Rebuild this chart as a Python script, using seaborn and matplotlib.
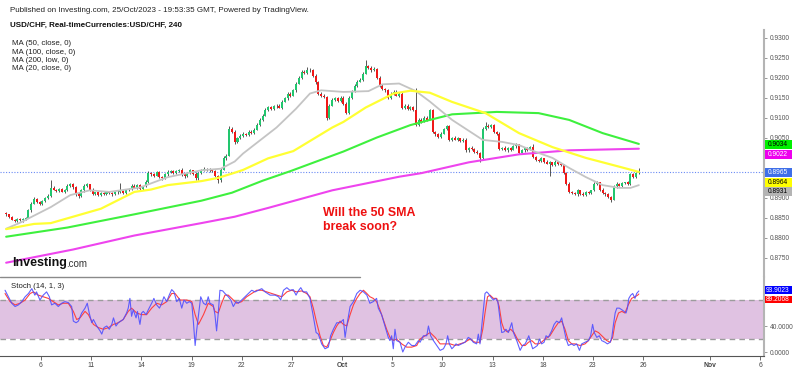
import numpy as np
import matplotlib
matplotlib.use("Agg")
import matplotlib.pyplot as plt
from matplotlib.patches import Rectangle
from matplotlib.lines import Line2D
import seaborn as sns

# ---------------- data (4h bars, USD/CHF) ----------------
first_open = 0.8862
closes = [
    0.8858,
    0.8851, 0.8845, 0.8842, 0.8847, 0.8843, 0.8846,   # Sep 4
    0.8850, 0.8868, 0.8885, 0.8897, 0.8890, 0.8884,   # Sep 5
    0.8892, 0.8899, 0.8905, 0.8925, 0.8920, 0.8916,   # Sep 6
    0.8922, 0.8915, 0.8918, 0.8930, 0.8934, 0.8926,   # Sep 7
    0.8910, 0.8903, 0.8918, 0.8929, 0.8933, 0.8920,   # Sep 8
    0.8909, 0.8913, 0.8906, 0.8912, 0.8910, 0.8914,   # Sep 11
    0.8911, 0.8908, 0.8915, 0.8913, 0.8917, 0.8912,   # Sep 12
    0.8918, 0.8921, 0.8930, 0.8925, 0.8932, 0.8922,   # Sep 13
    0.8928, 0.8940, 0.8962, 0.8958, 0.8955, 0.8963,   # Sep 14
    0.8952, 0.8948, 0.8958, 0.8964, 0.8967, 0.8962,   # Sep 15
    0.8966, 0.8970, 0.8958, 0.8953, 0.8962, 0.8968,   # Sep 18
    0.8960, 0.8948, 0.8962, 0.8970, 0.8972, 0.8968,   # Sep 19
    0.8970, 0.8966, 0.8955, 0.8943, 0.8970, 0.8998,   # Sep 20
    0.9005, 0.9072, 0.9065, 0.9040, 0.9048, 0.9055,   # Sep 21
    0.9060, 0.9057, 0.9065, 0.9062, 0.9070, 0.9082,   # Sep 22
    0.9095, 0.9105, 0.9120, 0.9126, 0.9122, 0.9128,   # Sep 25
    0.9130, 0.9125, 0.9140, 0.9148, 0.9160, 0.9155,   # Sep 26
    0.9168, 0.9185, 0.9200, 0.9215, 0.9212, 0.9220,   # Sep 27
    0.9218, 0.9205, 0.9188, 0.9160, 0.9155, 0.9152,   # Sep 28
    0.9100, 0.9130, 0.9145, 0.9148, 0.9142, 0.9150,   # Sep 29
    0.9135, 0.9112, 0.9150, 0.9165, 0.9180, 0.9190,   # Oct 2
    0.9195, 0.9210, 0.9228, 0.9225, 0.9218, 0.9222,   # Oct 3
    0.9200, 0.9180, 0.9172, 0.9168, 0.9150, 0.9160,   # Oct 4
    0.9165, 0.9155, 0.9160, 0.9125, 0.9130, 0.9122,   # Oct 5
    0.9126, 0.9120, 0.9082, 0.9095, 0.9090, 0.9100,   # Oct 6
    0.9095, 0.9118, 0.9065, 0.9058, 0.9052, 0.9060,   # Oct 9
    0.9072, 0.9078, 0.9045, 0.9050, 0.9045, 0.9048,   # Oct 10
    0.9042, 0.9045, 0.9018, 0.9025, 0.9022, 0.9015,   # Oct 11
    0.9012, 0.8998, 0.9072, 0.9080, 0.9076, 0.9082,   # Oct 12
    0.9065, 0.9060, 0.9022, 0.9025, 0.9018, 0.9024,   # Oct 13
    0.9020, 0.9028, 0.9033, 0.9012, 0.9018, 0.9024,   # Oct 16
    0.9020, 0.9026, 0.9002, 0.8995, 0.8992, 0.8998,   # Oct 17
    0.8990, 0.8985, 0.8988, 0.8982, 0.8990, 0.8985,   # Oct 18
    0.8982, 0.8962, 0.8935, 0.8915, 0.8912, 0.8908,   # Oct 19
    0.8918, 0.8910, 0.8906, 0.8914, 0.8912, 0.8918,   # Oct 20
    0.8935, 0.8938, 0.8920, 0.8912, 0.8908, 0.8902,   # Oct 23
    0.8895, 0.8928, 0.8935, 0.8930, 0.8936, 0.8938,   # Oct 24
    0.8934, 0.8958, 0.8952, 0.8962, 0.8965,           # Oct 25
]
# wick lengths beyond the candle body, in pips (0.0001)
up_wick = [
    2,
    2, 3, 2, 3, 2, 3,  2, 3, 3, 4, 3, 2,  3, 2, 3, 19, 3, 2,  3, 2, 4, 3, 3, 2,
    2, 3, 3, 5, 3, 2,  3, 2, 3, 2, 3, 2,  2, 3, 2, 3, 20, 2,  3, 2, 4, 3, 2, 3,
    2, 4, 5, 3, 3, 4,  3, 2, 3, 4, 3, 2,  3, 2, 3, 2, 3, 3,  2, 3, 3, 2, 4, 3,
    3, 2, 3, 2, 4, 5,  4, 6, 5, 3, 3, 4,  3, 2, 4, 3, 3, 4,  5, 4, 3, 4, 3, 3,
    3, 4, 3, 4, 5, 3,  4, 5, 4, 3, 4, 6,  3, 4, 3, 3, 4, 3,  2, 4, 3, 3, 4, 3,
    3, 3, 4, 3, 4, 3,  4, 5, 17, 4, 3, 4,  3, 3, 4, 3, 3, 4,  3, 4, 3, 3, 4, 3,
    3, 2, 55, 3, 3, 4,  3, 4, 3, 2, 3, 4,  3, 4, 3, 2, 3, 3,  2, 3, 3, 2, 3, 2,
    3, 2, 4, 10, 3, 3,  3, 2, 3, 2, 3, 3,  2, 3, 3, 2, 3, 2,  2, 3, 9, 3, 2, 3,
    2, 3, 3, 2, 3, 2,  2, 3, 2, 3, 2, 3,  3, 2, 3, 2, 3, 2,  3, 4, 2, 3, 2, 3,
    3, 4, 3, 2, 3, 2,  3, 4, 3, 3, 9,
]
dn_wick = [
    3,
    3, 2, 4, 3, 2, 3,  3, 2, 3, 2, 3, 3,  2, 3, 2, 3, 2, 3,  3, 2, 3, 2, 3, 4,
    6, 3, 2, 3, 2, 3,  3, 2, 3, 2, 3, 3,  2, 3, 2, 3, 2, 3,  3, 2, 3, 2, 3, 2,
    3, 2, 3, 4, 3, 2,  3, 4, 2, 3, 2, 3,  2, 3, 3, 4, 2, 3,  3, 5, 3, 2, 3, 2,
    3, 2, 3, 7, 3, 2,  3, 2, 3, 5, 3, 2,  3, 2, 3, 2, 3, 2,  2, 3, 2, 3, 3, 2,
    3, 2, 3, 2, 3, 3,  2, 3, 2, 3, 3, 2,  3, 3, 4, 3, 3, 3,  6, 3, 2, 3, 3, 2,
    3, 4, 2, 3, 2, 3,  2, 3, 2, 3, 3, 2,  3, 4, 3, 3, 4, 3,  3, 2, 3, 4, 3, 3,
    3, 3, 4, 3, 3, 2,  3, 2, 4, 3, 3, 2,  2, 3, 4, 3, 2, 3,  3, 2, 4, 3, 3, 3,
    3, 10, 2, 3, 3, 2,  3, 3, 4, 3, 2, 3,  3, 2, 3, 3, 2, 3,  3, 2, 3, 3, 2, 3,
    3, 2, 30, 3, 2, 3,  2, 3, 4, 3, 3, 2,  3, 3, 2, 3, 2, 3,  2, 3, 3, 2, 3, 3,
    6, 2, 3, 2, 3, 2,  3, 2, 3, 2, 3,
]

# moving averages (bar index, value)
ma50_bar = [0, 10, 16, 22, 34, 46, 52, 58, 70, 76, 82, 85, 94, 103, 117, 121, 129, 133, 139, 145, 152, 160, 172, 184, 196, 208, 220, 227]
ma50_val = [0.8821, 0.8834, 0.8836, 0.8848, 0.8872, 0.8914, 0.8920, 0.8931, 0.8941, 0.8949, 0.8962, 0.8969, 0.8998, 0.9016, 0.9075, 0.9089, 0.9125, 0.9139, 0.9160, 0.9167, 0.9162, 0.9139, 0.9111, 0.9061, 0.9026, 0.8999, 0.8977, 0.8964]
ma100_bar = [0, 22, 46, 70, 81, 92, 102, 121, 133, 145, 152, 160, 176, 191, 202, 214, 227]
ma100_val = [0.8802, 0.8825, 0.8858, 0.8892, 0.8912, 0.8942, 0.8966, 0.9015, 0.9050, 0.9081, 0.9094, 0.9108, 0.9114, 0.9111, 0.9094, 0.9061, 0.9034]
ma200_bar = [0, 24, 46, 70, 82, 94, 117, 141, 149, 166, 184, 202, 227]
ma200_val = [0.8737, 0.8770, 0.8805, 0.8836, 0.8852, 0.8874, 0.8918, 0.8952, 0.8961, 0.8988, 0.9008, 0.9018, 0.9022]
ma20_bar = [0, 5, 16, 23, 30, 37, 48, 58, 70, 77, 82, 85, 97, 104, 109, 113, 121, 130, 135, 141, 147, 152, 160, 171, 178, 184, 190, 196, 202, 208, 214, 220, 224, 227]
ma20_val = [0.8822, 0.8837, 0.8876, 0.8906, 0.8918, 0.8914, 0.8925, 0.8951, 0.8968, 0.8972, 0.8990, 0.9010, 0.9075, 0.9122, 0.9160, 0.9168, 0.9164, 0.9166, 0.9183, 0.9185, 0.9166, 0.9140, 0.9094, 0.9044, 0.9039, 0.9031, 0.9014, 0.8999, 0.8974, 0.8951, 0.8931, 0.8924, 0.8924, 0.8931]

# stochastic (14,1,3): %K and %D (bar index, value)
stoch_k_t = [-0.4, 0.8, 2.0, 3.2, 4.4, 5.6, 6.8, 8.0, 9.2, 10.3, 10.9, 12.1, 13.3, 14.5, 15.5, 16.3, 17.5, 18.7, 19.9, 21.1, 22.3, 23.5, 24.1, 25.1, 25.9, 27.1, 28.3, 29.1, 29.8, 30.7, 31.3, 32.5, 33.7, 34.3, 35.1, 36.1, 37.0, 37.9, 38.5, 39.4, 40.2, 41.1, 42.0, 43.2, 43.8, 44.4, 45.0, 45.6, 46.6, 47.1, 48.0, 48.6, 49.2, 50.2, 51.0, 52.2, 53.0, 54.0, 55.0, 55.8, 56.6, 57.6, 58.5, 59.4, 60.2, 61.2, 62.1, 63.0, 63.8, 64.8, 65.7, 66.6, 67.2, 67.8, 68.4, 69.3, 69.8, 70.8, 71.7, 72.5,
             73.1, 74.3, 74.9, 75.5, 76.1, 76.7, 77.7, 78.5, 79.7, 80.6, 81.5, 82.5, 83.3, 84.5, 86.3, 88.1, 89.3, 90.5, 91.7, 92.9, 94.7, 96.5, 97.7, 98.5, 99.5, 100.7, 101.8, 103.0, 104.0, 104.8, 105.7, 106.6, 107.8, 109.0, 110.2, 111.2, 112.0, 113.2, 114.4, 115.6, 116.4, 117.4, 118.6, 119.8, 121.0, 121.6, 122.2, 123.4, 124.6, 125.8, 127.0, 128.2, 129.4, 130.5, 131.7, 132.9, 133.5, 134.7, 135.9, 137.1, 137.7, 138.3, 138.9, 139.5, 140.1, 141.3, 142.3, 143.1, 144.3, 145.5, 146.7, 147.9,
             148.5, 149.7, 150.9, 151.5, 152.3, 153.3, 154.5, 155.7, 156.9, 157.8, 158.4, 159.0, 159.9, 160.5, 161.4, 162.2, 163.4, 164.6, 165.8, 166.7, 167.6, 168.8, 169.4, 170.0, 171.0, 171.8, 172.4, 173.0, 173.8, 174.8, 175.6, 176.4, 177.2, 177.8, 178.6, 179.3, 180.2, 180.8, 181.4, 182.0, 183.2, 184.4, 185.3, 186.2, 186.8, 187.5, 188.0, 188.9, 189.8, 190.6, 191.3, 192.1, 193.0, 193.7, 194.5, 195.7, 196.6, 197.5, 198.5, 199.3, 199.9, 200.9, 201.7, 202.9, 203.7, 204.7, 205.7, 206.5, 207.7, 208.9, 209.7, 210.4, 211.0, 211.9, 212.8, 213.7, 214.9, 215.7, 216.7, 217.3, 217.9, 218.5, 219.1, 220.0, 220.9, 221.7, 222.4, 222.9, 223.4, 224.1, 224.8, 225.6, 226.2, 227.0]
stoch_k_v = [95, 85, 75, 70, 72.5, 77.5, 85, 90, 97.5, 87.5, 92.5, 80, 87.5, 92.5, 85, 72.5, 75, 70, 75, 77.5, 76, 70, 47.5, 45, 47.5, 60, 67.5, 75, 60, 45, 50, 40, 32.5, 27.5, 37.5, 40, 35, 42.5, 52.5, 40, 45, 47.5, 50, 60, 67.5, 82.5, 55, 65, 52.5, 62.5, 42.5, 60, 62.5, 57.5, 65, 75, 82.5, 72.5, 67.5, 75, 85, 77.5, 87.5, 96, 92.5, 77.5, 82.5, 67.5, 80, 75, 77.5, 75, 45, 10, 35, 67.5, 85, 75, 72.5, 85,
             75, 72.5, 57.5, 32.5, 60, 95, 94, 90, 85, 80, 70, 77.5, 75, 80, 87.5, 95, 92.5, 95, 97.5, 92.5, 87.5, 87.5, 85, 80, 95, 99, 95, 96, 87.5, 94, 99, 92.5, 92.5, 82.5, 55, 30, 27.5, 12.5, 5, 7.5, 25, 35, 45, 45, 50, 22.5, 40, 70, 77.5, 90, 95, 92.5, 87.5, 75, 77.5, 82.5, 67.5, 57.5, 40, 22.5, 17.5, 25, 5, 35, 17.5, 15, 0, 7.5, 15, 10, 10, 17.5,
             15, 25, 25, 40, 25, 17.5, 10, 2.5, 5, 12.5, 25, 12.5, 5, 7.5, 12.5, 10, 12.5, 15, 22.5, 20, 15, 12.5, 27.5, 12.5, 55, 90, 92.5, 90, 85, 80, 82.5, 77.5, 50, 30, 31, 35, 30, 37.5, 45, 30, 17.5, 2.5, 10, 12.5, 17.5, 25, 17.5, 5, 7.5, 10, 20, 12.5, 15, 25, 22.5, 32.5, 42.5, 47.5, 45, 52.5, 40, 20, 10, 12.5, 10, 12.5, 2.5, 12.5, 15, 17.5, 25, 42.5, 30, 22.5, 25, 17.5, 15, 12.5, 15, 22.5, 42.5, 60, 67.5, 67.5, 65, 62.5, 60, 67.5, 82.5, 87.5, 90, 82.5, 90, 93.9023]
stoch_d_t = [-0.4, 1.4, 3.2, 5.0, 6.8, 8.6, 9.8, 11.5, 13.3, 15.1, 16.9, 18.7, 20.5, 22.3, 24.1, 25.3, 26.5, 28.3, 29.5, 31.3, 33.1, 34.9, 36.7, 38.5, 40.2, 42.0, 43.8, 45.0, 46.8, 48.6, 50.4, 52.2, 54.0, 55.8, 57.6, 59.4, 60.6, 62.4, 64.8, 66.6, 67.8, 69.0, 70.8, 72.5, 74.3,
             74.9, 76.1, 77.3, 78.5, 79.7, 80.9, 82.7, 84.5, 86.3, 88.1, 89.9, 91.7, 93.5, 95.3, 97.1, 98.9, 100.7, 102.4, 104.2, 106.0, 107.8, 109.0, 110.2, 111.4, 112.6, 113.8, 115.0, 116.2, 117.4, 118.6, 119.8, 121.0, 122.2, 123.4, 124.6, 125.8, 127.0, 128.2, 129.4, 130.5, 131.7, 132.9, 134.1, 135.3, 136.5, 137.7, 138.9, 140.1, 141.9, 143.7, 145.5, 147.3,
             148.5, 150.3, 152.1, 153.9, 155.7, 157.5, 159.3, 161.1, 162.8, 164.6, 166.4, 168.2, 170.0, 171.0, 171.8, 172.7, 173.6, 174.8, 176.0, 176.9, 177.8, 178.6, 179.8, 181.0, 182.2, 183.4, 185.0, 186.2, 187.4, 188.6, 189.8, 191.0, 192.1, 193.3, 195.1, 196.9, 198.1, 199.3, 200.5, 201.7, 202.9, 204.1, 205.9, 207.7, 208.9, 210.1, 211.3, 212.5, 213.7, 215.5, 216.7, 217.6, 218.5, 219.7, 220.9, 222.0, 223.2, 224.4, 225.6, 226.6, 227.0]
stoch_d_v = [90, 77.5, 72.5, 75, 80, 90, 92.5, 87.5, 85, 82.5, 77.5, 72.5, 75, 75, 62.5, 50, 52.5, 62.5, 57.5, 42.5, 37.5, 35, 37.5, 42.5, 45, 50, 62.5, 67.5, 60, 57.5, 57.5, 67.5, 75, 72.5, 77.5, 90, 90, 80, 80, 77.5, 57.5, 42.5, 57.5, 75, 70,
             62.5, 60, 75, 87.5, 87.5, 82.5, 75, 77.5, 85, 90, 95, 95, 92.5, 90, 87.5, 85, 92.5, 95, 92.5, 94, 90, 85, 67.5, 45, 25, 10, 7.5, 17.5, 30, 40, 47.5, 42.5, 40, 57.5, 72.5, 82.5, 90, 95, 90, 85, 82.5, 77.5, 65, 50, 35, 22.5, 17.5, 20, 12.5, 7.5, 7.5, 10,
             20, 25, 30, 22.5, 12.5, 12.5, 12.5, 10, 12.5, 15, 20, 15, 15, 35, 60, 85, 87.5, 82.5, 82.5, 70, 45, 35, 31, 35, 30, 20, 10, 10, 15, 17.5, 12.5, 12.5, 15, 20, 25, 37.5, 45, 47.5, 35, 17.5, 12.5, 12.5, 10, 12.5, 17.5, 25, 32.5, 30, 25, 17.5, 15, 22.5, 45, 60, 62.5, 60, 72.5, 82.5, 85, 87.5, 89.2068]

# axis labels
tick_days = [2, 5, 8, 11, 14, 17, 20, 23, 26, 29, 32, 35, 38, 42, 45]
tick_labels = ["6", "11", "14", "19", "22", "27", "Oct", "5", "10", "13", "18", "23", "26", "Nov", "6"]
bars_per_day = 6
price_ticks = [0.8750, 0.8800, 0.8850, 0.8900, 0.8950, 0.9000, 0.9050, 0.9100, 0.9150, 0.9200, 0.9250, 0.9300]
price_hidden = [0.8950, 0.9000]          # labels covered by the value boxes
stoch_ticks = [0, 40, 80]
stoch_hidden = [80]
ma_legend = ["MA (50, close, 0)", "MA (100, close, 0)", "MA (200, low, 0)", "MA (20, close, 0)"]
last_labels = ["0.9034", "0.9022", "0.8965", "0.8964", "0.8931"]
stoch_labels = ["93.9023", "89.2068"]
last_price = 0.8965

# ---------------- style ----------------
sns.set_theme(style="white")
plt.rcParams['font.family'] = ['Liberation Sans', 'DejaVu Sans']

GREEN = '#22c66e'
RED = '#f01818'
C_MA50 = '#ffff33'
C_MA100 = '#3ef03e'
C_MA200 = '#ee44ee'
C_MA20 = '#c4c4c4'

W, H = 800, 371
def fx(px):
    return px / W
def fy(py):
    return 1 - py / H

fig = plt.figure(figsize=(8, 3.71), dpi=100)
fig.patch.set_facecolor('white')
ax = fig.add_axes([0, fy(277), fx(764), fy(30) - fy(277)])
ax2 = fig.add_axes([0, fy(356), fx(764), fy(277) - fy(356)])

XMIN, XMAX = -2.21, 271.9

# ---------------- candles ----------------
c = np.array(closes)
o = np.array([first_open] + closes[:-1])
n = np.arange(len(c))
hi = np.maximum(o, c) + np.array(up_wick) * 1e-4
lo = np.minimum(o, c) - np.array(dn_wick) * 1e-4
cols = np.where(c >= o, GREEN, RED)
ax.vlines(n, lo, hi, colors='#3a3a3a', lw=0.6, zorder=2)
ax.bar(n, np.maximum(np.abs(c - o), 0.00008), bottom=np.minimum(o, c),
       width=0.72, color=cols, linewidth=0, zorder=3)

# ---------------- moving averages ----------------
for bars, vals, col, lw in [(ma200_bar, ma200_val, C_MA200, 1.5),
                            (ma100_bar, ma100_val, C_MA100, 1.5),
                            (ma20_bar, ma20_val, C_MA20, 1.3),
                            (ma50_bar, ma50_val, C_MA50, 1.6)]:
    sns.lineplot(x=bars, y=vals, ax=ax, color=col, linewidth=lw,
                 estimator=None, sort=False, zorder=4)

ax.axhline(last_price, color='#6a8af5', lw=0.8, ls=(0, (1, 1.5)), zorder=1)

ax.set_xlim(XMIN, XMAX)
ax.set_ylim(0.87013, 0.93188)
ax.set_xticks([])
ax.yaxis.tick_right()
ax.set_yticks(price_ticks)
ax.set_yticklabels(["" if v in price_hidden else f"{v:.4f}" for v in price_ticks])
ax.tick_params(axis='y', direction='out', length=2.5, width=0.6, color='#888888',
               labelsize=4.8, labelcolor='#555555', pad=2)
for s in ['top', 'left', 'bottom']:
    ax.spines[s].set_visible(False)
ax.spines['right'].set_color('#b4b4b4')
ax.spines['right'].set_linewidth(1.5)
ax.set_xlabel('')
ax.set_ylabel('')

# ---------------- stochastic ----------------
ax2.axhspan(20, 80, color='#e0c2e2', lw=0, zorder=0)
ax2.axhline(80, color='#9c9c9c', lw=1, ls=(0, (4, 3)), zorder=1)
ax2.axhline(20, color='#9c9c9c', lw=1, ls=(0, (4, 3)), zorder=1)
sns.lineplot(x=stoch_d_t, y=stoch_d_v, ax=ax2, color='#ff4040', linewidth=0.8,
             estimator=None, sort=False, zorder=3)
sns.lineplot(x=stoch_k_t, y=stoch_k_v, ax=ax2, color='#5050ff', linewidth=0.8,
             estimator=None, sort=False, zorder=4, alpha=0.9)
ax2.set_xlim(XMIN, XMAX)
ax2.set_ylim(-6.15, 115.4)
ax2.yaxis.tick_right()
ax2.set_yticks(stoch_ticks)
ax2.set_yticklabels(["" if v in stoch_hidden else f"{v:.4f}" for v in stoch_ticks])
ax2.tick_params(axis='y', direction='out', length=2.5, width=0.6, color='#888888',
                labelsize=4.8, labelcolor='#555555', pad=2)
ax2.set_xticks([bars_per_day * d + 0.5 for d in tick_days])
ax2.set_xticklabels(tick_labels)
ax2.tick_params(axis='x', direction='out', length=3, width=0.6, color='#555555',
                labelsize=4.9, labelcolor='#444444', pad=1.5, bottom=True)
for lab in ax2.get_xticklabels():
    if lab.get_text() in ("Oct", "Nov"):
        lab.set_fontweight('bold')
for s in ['top', 'left']:
    ax2.spines[s].set_visible(False)
ax2.spines['right'].set_color('#b4b4b4')
ax2.spines['right'].set_linewidth(1.5)
ax2.spines['bottom'].set_color('#555555')
ax2.spines['bottom'].set_linewidth(0.8)
ax2.set_xlabel('')
ax2.set_ylabel('')

# separator line under the price pane
fig.add_artist(Line2D([0, fx(360)], [fy(277), fy(277)], color='#8a8a8a', lw=1))

# ---------------- value boxes on the price scale ----------------
def value_box(text, ypx, bg, fg, h=9):
    fig.add_artist(Rectangle((fx(764.5), fy(ypx + h / 2)), fx(27.5), h / H,
                             transform=fig.transFigure, facecolor=bg, edgecolor='none', zorder=5))
    fig.text(fx(778), fy(ypx), text, ha='center', va='center', color=fg,
             fontsize=4.8, zorder=6)

box_y = [144.5, 154.3, 172.2, 182.3, 191.7]
box_bg = ['#00f000', '#ee00ee', '#3f6fe8', '#ffff00', '#b4b4b4']
box_fg = ['black', 'white', 'white', 'black', 'black']
for t, yp, bg, fg in zip(last_labels, box_y, box_bg, box_fg):
    value_box(t, yp, bg, fg)
value_box(stoch_labels[0], 290, '#0000ff', 'white', h=7.5)
value_box(stoch_labels[1], 299.5, '#ff0000', 'white', h=7.5)

# ---------------- texts ----------------
fig.text(fx(10), fy(11), "Published on Investing.com, 25/Oct/2023 - 19:53:35 GMT, Powered by TradingView.",
         fontsize=5.8, color='#222222', va='center')
fig.text(fx(10), fy(25), "USD/CHF, Real-timeCurrencies:USD/CHF, 240",
         fontsize=5.8, fontweight='bold', color='#111111', va='center')
for i, s in enumerate(ma_legend):
    fig.text(fx(12), fy(43.5 + 8.5 * i), s, fontsize=5.7, color='#222222', va='center')
fig.text(fx(11), fy(287), "Stoch (14, 1, 3)", fontsize=5.6, color='#222222', va='center')
fig.text(fx(323), fy(213.3), "Will the 50 SMA", fontsize=8.9, fontweight='bold',
         color='#ee1111', va='center')
fig.text(fx(323), fy(227), "break soon?", fontsize=8.9, fontweight='bold',
         color='#ee1111', va='center')
fig.text(fx(12), fy(263), "Investing", fontsize=9, fontweight='bold', color='#111111', va='center')
fig.text(fx(66.5), fy(264), ".com", fontsize=7, color='#333333', va='center')

fig.savefig("out.png", dpi=100, facecolor='white')
